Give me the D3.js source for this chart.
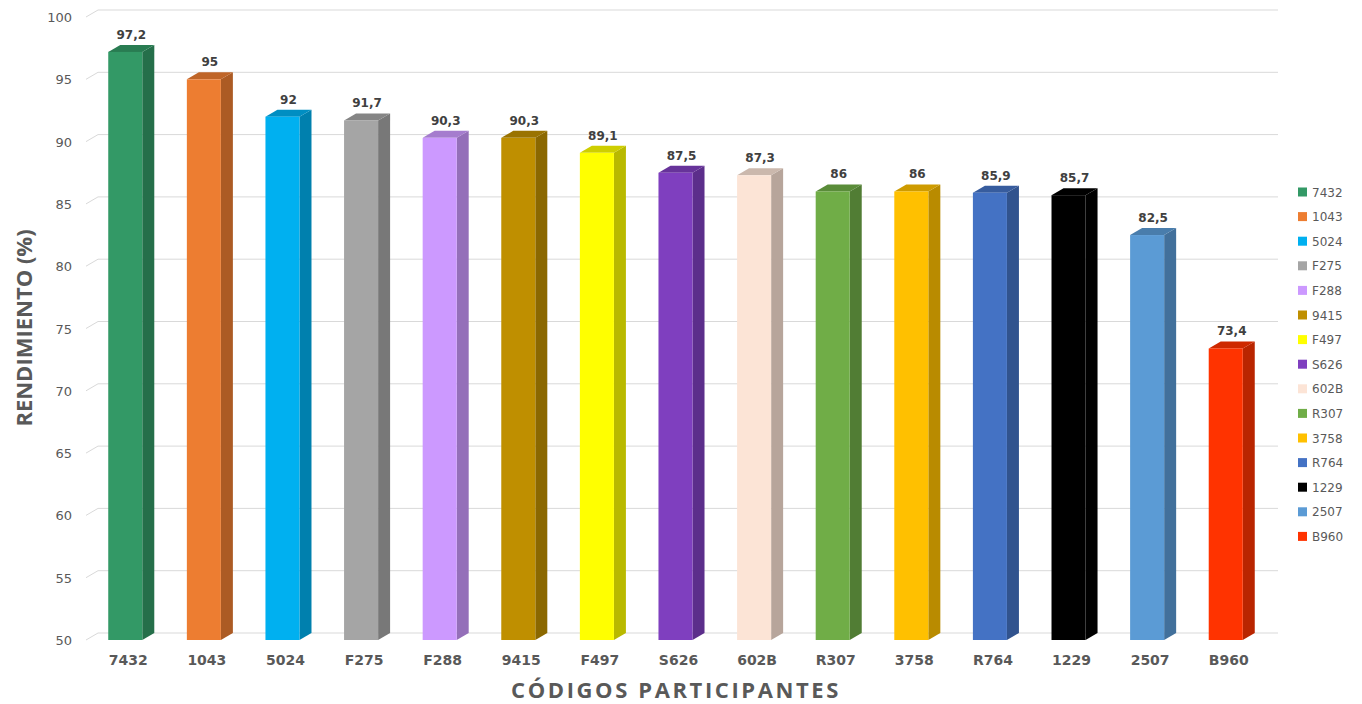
<!doctype html>
<html lang="es">
<head>
<meta charset="utf-8">
<title>Rendimiento por participante</title>
<script src="https://cdn.jsdelivr.net/npm/d3@7"></script>
<style>
    body { margin: 0; background: #fff; }
    svg text { font-family: "DejaVu Sans", Verdana, sans-serif; }
</style>
</head>
<body>
<svg id="chart" width="1362" height="704"></svg>
<script>
    const codes = ["7432", "1043", "5024", "F275", "F288", "9415", "F497", "S626", "602B", "R307", "3758", "R764", "1229", "2507", "B960"];
    const values = [97.2, 95, 92, 91.7, 90.3, 90.3, 89.1, 87.5, 87.3, 86, 86, 85.9, 85.7, 82.5, 73.4];
    const colors = ["#339966", "#ED7D31", "#00B0F0", "#A5A5A5", "#CC99FF", "#BF8F00", "#FFFF00", "#7F3FBF",
        "#FCE4D6", "#70AD47", "#FFC000", "#4472C4", "#000000", "#5B9BD5", "#FF3300"];
    const yTicks = [50, 55, 60, 65, 70, 75, 80, 85, 90, 95, 100];

    const svg = d3.select("#chart");
    const dx = 12, dy = 7;   // depth of the 3d look

    const x = d3.scaleBand()
        .domain(codes)
        .range([86, 1265])
        .paddingInner(0.567)
        .paddingOuter(0.283);

    const y = d3.scaleLinear()
        .domain([50, 100])
        .range([640, 17]);

    const fmt = v => String(v).replace(".", ",");

    // grid (back wall + diagonal to front)
    const grid = svg.append("g");
    yTicks.forEach(t => {
        grid.append("line")
            .attr("x1", 86 + dx).attr("x2", 1278)
            .attr("y1", y(t) - dy).attr("y2", y(t) - dy)
            .attr("stroke", "#d9d9d9").attr("stroke-width", 1);
        grid.append("line")
            .attr("x1", 86).attr("x2", 86 + dx)
            .attr("y1", y(t)).attr("y2", y(t) - dy)
            .attr("stroke", "#d9d9d9").attr("stroke-width", 1);
        grid.append("text")
            .attr("x", 72).attr("y", y(t) + 5)
            .attr("text-anchor", "end")
            .attr("fill", "#595959")
            .style("font-size", "13px")
            .text(t);
    });

    const bars = svg.append("g").selectAll("g")
        .data(codes.map((c, i) => ({code: c, value: values[i], color: colors[i]})))
        .enter().append("g");

    // side
    bars.append("path")
        .attr("d", d => {
            const x1 = x(d.code) + x.bandwidth(), y0 = y(50), y1 = y(d.value);
            return `M${x1},${y1}L${x1 + dx},${y1 - dy}L${x1 + dx},${y0 - dy}L${x1},${y0}Z`;
        })
        .attr("fill", d => d3.color(d.color).darker(d.code === "1229" ? 0 : 0.9));

    // top
    bars.append("path")
        .attr("d", d => {
            const x0 = x(d.code), x1 = x0 + x.bandwidth(), y1 = y(d.value);
            return `M${x0},${y1}L${x0 + dx},${y1 - dy}L${x1 + dx},${y1 - dy}L${x1},${y1}Z`;
        })
        .attr("fill", d => d3.color(d.color).darker(d.code === "1229" ? 0 : 0.6));

    // front
    bars.append("rect")
        .attr("x", d => x(d.code))
        .attr("y", d => y(d.value))
        .attr("width", x.bandwidth())
        .attr("height", d => y(50) - y(d.value))
        .attr("fill", d => d.color);

    bars.append("text")
        .attr("x", d => x(d.code) + x.bandwidth() / 2 + dx / 2)
        .attr("y", d => y(d.value) - dy - 6)
        .attr("text-anchor", "middle")
        .attr("fill", "#404040")
        .style("font-size", "12px")
        .style("font-weight", "bold")
        .text(d => fmt(d.value));

    // category labels
    svg.append("g").selectAll("text")
        .data(codes)
        .enter().append("text")
        .attr("x", d => x(d) + x.bandwidth() / 2 + 3)
        .attr("y", 665)
        .attr("text-anchor", "middle")
        .attr("fill", "#595959")
        .style("font-size", "14px")
        .style("font-weight", "bold")
        .text(d => d);

    // axis titles
    svg.append("text")
        .attr("x", 676).attr("y", 698)
        .attr("text-anchor", "middle")
        .attr("fill", "#595959")
        .style("font-family", "'Open Sans', sans-serif")
        .style("font-size", "22px")
        .style("font-weight", "bold")
        .style("letter-spacing", "2.6px")
        .text("CÓDIGOS PARTICIPANTES");

    svg.append("text")
        .attr("transform", "translate(32,328) rotate(-90)")
        .attr("text-anchor", "middle")
        .attr("fill", "#595959")
        .style("font-family", "'Open Sans', sans-serif")
        .style("font-size", "22px")
        .style("font-weight", "bold")
        .text("RENDIMIENTO (%)");

    // legend
    const legend = svg.append("g").selectAll("g")
        .data(codes)
        .enter().append("g")
        .attr("transform", (d, i) => "translate(1298," + (192 + i * 24.6) + ")");
    legend.append("rect")
        .attr("x", 0).attr("y", -4.5)
        .attr("width", 9).attr("height", 9)
        .attr("fill", (d, i) => colors[i]);
    legend.append("text")
        .attr("x", 14).attr("y", 4.5)
        .attr("fill", "#595959")
        .style("font-size", "12px")
        .text(d => d);
</script>
</body>
</html>
